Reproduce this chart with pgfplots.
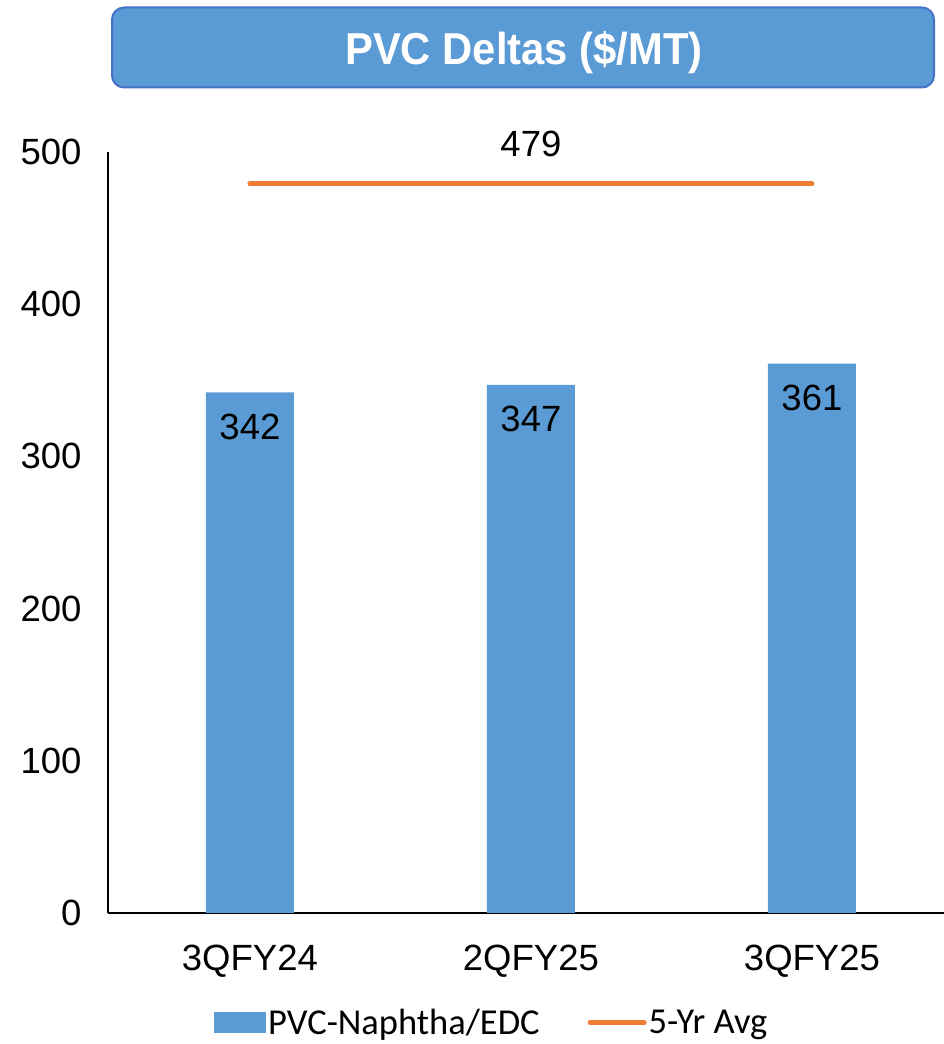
\documentclass[border=0pt]{standalone}
\usepackage{fontspec}
\setmainfont{Liberation Sans}
\newfontfamily\carlito{Carlito}
\usepackage{pgfplots}
\pgfplotsset{compat=1.18}
\definecolor{barblue}{RGB}{91,155,213}
\definecolor{boxedge}{RGB}{68,114,196}
\definecolor{avgorange}{RGB}{237,125,49}
\begin{document}
\begin{tikzpicture}[x=1pt,y=1pt]
\useasboundingbox (0,0) rectangle (944,1044);
\node[draw=boxedge, line width=2pt, fill=barblue, rounded corners=12pt,
      minimum width=822pt, minimum height=80pt, inner sep=0pt]
      at (523,996.5) {};
\node[text=white, inner sep=0pt, anchor=base, xscale=0.935,
      font=\bfseries\fontsize{44.7}{48}\selectfont]
      at (524,979) {PVC Deltas (\$/MT)};
\begin{axis}[
  at={(108pt,131pt)}, anchor=south west,
  scale only axis, width=836pt, height=761pt,
  xmin=-0.505, xmax=2.47, ymin=0, ymax=500,
  axis x line*=bottom, axis y line*=left,
  axis line style={-, black, line width=1.5pt},
  major tick length=0pt,
  xtick={0,1,2}, xticklabels={3QFY24,2QFY25,3QFY25},
  ytick={0,100,...,500},
  /pgf/number format/assume math mode=true,
  ticklabel style={font=\fontsize{36.5}{40}\selectfont},
  yticklabel style={xshift=-23pt},
  xticklabel style={yshift=-28pt},
  clip=false,
  legend cell align=left,
  legend style={draw=none, at={(0.1268,-0.1445)}, anchor=west,
    legend columns=2, font=\carlito\fontsize{36.5}{40}\selectfont,
    nodes={inner sep=2pt},
    /tikz/every even column/.append style={column sep=46pt},
    inner sep=0pt},
]
\addplot[ybar, bar width=88pt, fill=barblue, draw=none,
  nodes near coords,
  every node near coord/.append style={anchor=center, yshift=-34pt, text=black, font=\fontsize{36.5}{40}\selectfont},
  legend image code/.code={\fill[barblue] (0pt,-10.5pt) rectangle (52pt,10.5pt);}]
  coordinates {(0,342) (1,347) (2,361)};
\addlegendentry{PVC-Naphtha/EDC}
\addplot[avgorange, line width=5pt, line cap=round, mark=none,
  point meta=explicit symbolic, nodes near coords,
  every node near coord/.append style={anchor=center, yshift=40pt, text=black, font=\fontsize{36.5}{40}\selectfont},
  legend image code/.code={\draw[avgorange, line width=5pt, line cap=round] (2pt,0pt) -- (56pt,0pt);}]
  coordinates {(0,479) [] (1,479) [479] (2,479) []};
\addlegendentry{5-Yr Avg}
\end{axis}
\end{tikzpicture}
\end{document}
